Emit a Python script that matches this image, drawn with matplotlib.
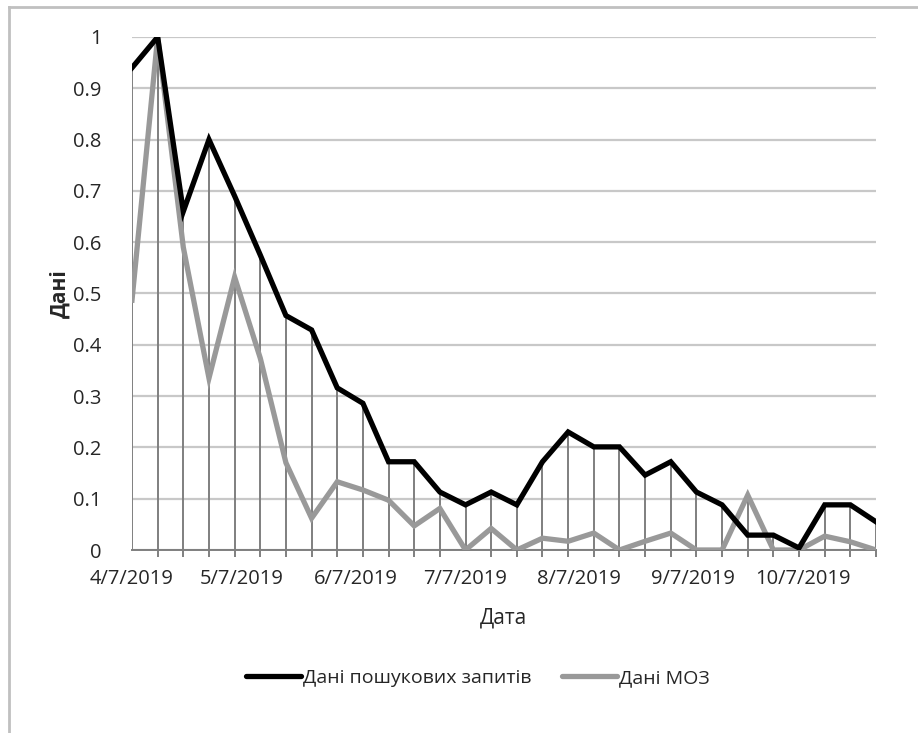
import datetime as dt
import numpy as np
import matplotlib
matplotlib.use("Agg")
import matplotlib.pyplot as plt
import matplotlib.dates as mdates
from matplotlib.lines import Line2D
from matplotlib.ticker import FuncFormatter, MultipleLocator

plt.rcParams["font.family"] = ["Open Sans", "DejaVu Sans"]

# Data (weekly, starting 4/7/2019)
start = dt.date(2019, 4, 7)
n_weeks = 30
search = [0.94, 1.00, 0.66, 0.80, 0.69, 0.575, 0.457, 0.429, 0.316, 0.286,
          0.172, 0.172, 0.113, 0.088, 0.113, 0.088, 0.172, 0.230, 0.201, 0.201,
          0.146, 0.172, 0.113, 0.088, 0.029, 0.029, 0.004, 0.088, 0.088, 0.055]
moz = [0.487, 1.00, 0.59, 0.335, 0.532, 0.374, 0.170, 0.062, 0.133, 0.117,
       0.097, 0.047, 0.081, 0.0, 0.042, 0.0, 0.023, 0.017, 0.033, 0.0,
       0.017, 0.033, 0.0, 0.0, 0.107, 0.0, 0.0, 0.027, 0.016, 0.0]
month_ticks = [dt.date(2019, m, 7) for m in range(4, 11)]

dates = [start + dt.timedelta(weeks=i) for i in range(n_weeks)]
search = np.array(search)
moz = np.array(moz)
top = np.maximum(search, moz)

W, H = 918, 733
fig = plt.figure(figsize=(W / 100, H / 100), dpi=100)
ax = fig.add_axes([132 / W, 1 - 550 / H, (876 - 132) / W, (550 - 37) / H])

grid_c = "#c8c8c8"
drop_c = "#7f7f7f"
txt_c = "#262626"

ax.set_ylim(0, 1)
ax.set_xlim(mdates.date2num(dates[0]), mdates.date2num(dates[-1]))
ax.yaxis.set_major_locator(MultipleLocator(0.1))
ax.yaxis.set_major_formatter(FuncFormatter(lambda v, p: "0" if v == 0 else ("1" if abs(v - 1) < 1e-9 else f"{v:.1f}")))
ax.grid(axis="y", color=grid_c, lw=1.6)
ax.set_axisbelow(True)

# drop lines
ax.vlines(dates, 0, top, color=drop_c, lw=1.4, zorder=2)

ax.plot(dates, moz, color="#999999", lw=3.8, solid_joinstyle="miter", zorder=3)
ax.plot(dates, search, color="black", lw=3.8, solid_joinstyle="miter", zorder=4)

ax.set_xticks([mdates.date2num(d) for d in month_ticks])
ax.xaxis.set_major_formatter(FuncFormatter(
    lambda v, p: (lambda d: f"{d.month}/{d.day}/{d.year}")(mdates.num2date(v))))
ax.set_xticks([mdates.date2num(d) for d in dates], minor=True)
ax.tick_params(axis="x", which="major", length=0, pad=14, labelsize=14.5, labelcolor=txt_c)
ax.tick_params(axis="x", which="minor", length=5, width=1.4, color=drop_c)
ax.tick_params(axis="y", length=0, pad=22, labelsize=14.5, labelcolor=txt_c)

for s in ["top", "right", "left"]:
    ax.spines[s].set_visible(False)
ax.spines["bottom"].set_color(drop_c)
ax.spines["bottom"].set_linewidth(1.4)

ax.set_xlabel("Дата", fontsize=15, color=txt_c, labelpad=13)
ax.set_ylabel("Дані", fontsize=15, fontweight="bold", color=txt_c, labelpad=2)

handles = [Line2D([], [], color="black", lw=3.8, solid_capstyle="round"),
           Line2D([], [], color="#999999", lw=3.8, solid_capstyle="round")]
fig.legend(handles, ["Дані пошукових запитів", "Дані МОЗ"], loc="center",
           bbox_to_anchor=(478 / W, 1 - 678 / H), ncol=2, frameon=False,
           fontsize=14, handlelength=2.8, handletextpad=0.1, columnspacing=1.6,
           labelcolor=txt_c)

# chart border
fig.add_artist(Line2D([9 / W, 1], [1 - 7 / H, 1 - 7 / H], transform=fig.transFigure, color="#c0c0c0", lw=2))
fig.add_artist(Line2D([9 / W, 9 / W], [0, 1 - 7 / H], transform=fig.transFigure, color="#c0c0c0", lw=2))

fig.savefig("out.png", dpi=100)
